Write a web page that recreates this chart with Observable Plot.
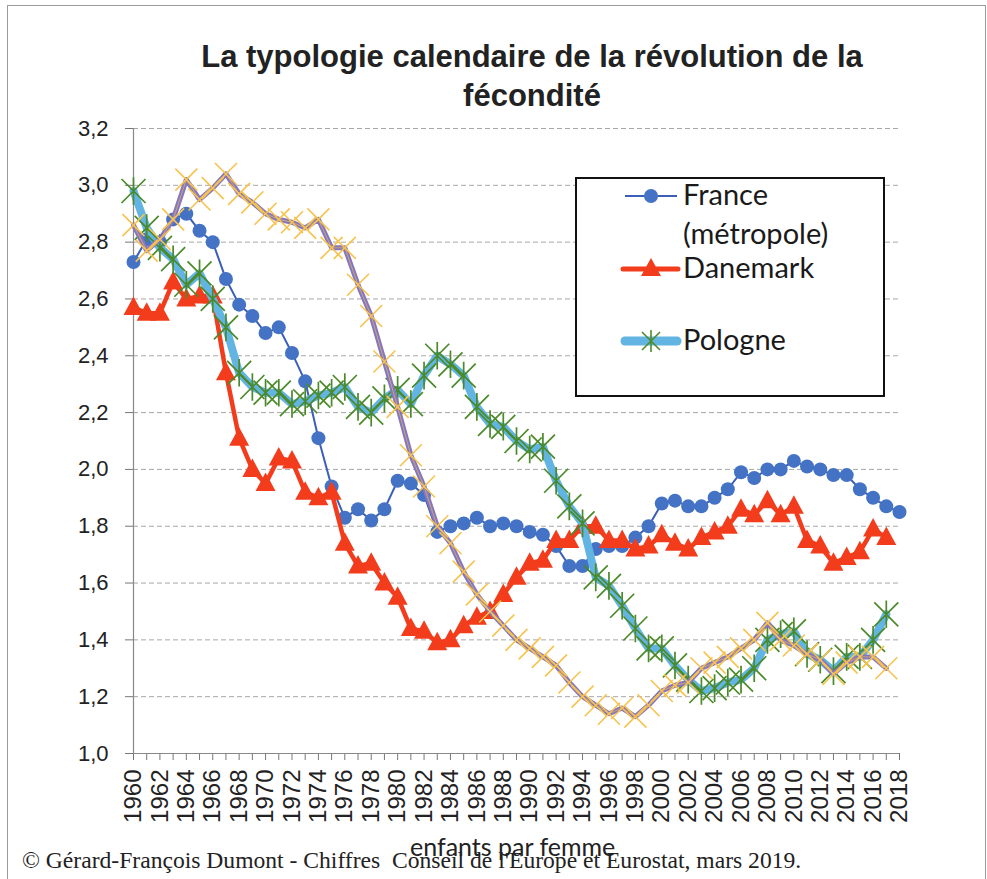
<!DOCTYPE html>
<html>
<head>
<meta charset="utf-8">
<script src="https://cdn.jsdelivr.net/npm/d3@7"></script>
<script src="https://cdn.jsdelivr.net/npm/@observablehq/plot@0.6"></script>
<style>
  html, body { margin: 0; padding: 0; background: #fff; }
  #wrap { position: relative; width: 987px; height: 879px; overflow: hidden; }
  #frame { position: absolute; left: 7px; top: 5px; width: 977px; height: 900px; border: 1px solid #9a9a9a; }
  #title { position: absolute; left: 132px; width: 800px; top: 37px; text-align: center;
           font: bold 31px "Liberation Sans", Arial, sans-serif; line-height: 39px; color: #222; }
  #chart { position: absolute; left: 0; top: 0; }
  #legend { position: absolute; left: 575px; top: 177px; width: 310px; height: 220px; box-sizing: border-box;
            border: 2px solid #111; background: #fff; }
  #legend svg { position: absolute; left: 0; top: 0; }
  .lt { position: absolute; left: 106px; font: 29px Lato, "Open Sans", sans-serif; color: #1a1a1a; line-height: 34px; white-space: nowrap; }
  #unit { position: absolute; left: 410px; top: 831px; font: 25px Lato, "Open Sans", sans-serif; color: #222; }
  #caption { position: absolute; left: 22px; top: 847px; font: 23.6px "Liberation Serif", "Times New Roman", serif; color: #222; white-space: pre; }
</style>
</head>
<body>
<div id="wrap">
  <div id="frame"></div>
  <div id="chart"></div>
  <div id="title">La typologie calendaire de la révolution de la<br>fécondité</div>
  <div id="legend">
    <svg width="306" height="216">
      <line x1="48" x2="100" y1="17" y2="17" stroke="#3b5fb8" stroke-width="2"/>
      <circle cx="74" cy="17" r="7" fill="#4472c4"/>
      <line x1="46" x2="101" y1="90" y2="90" stroke="#f23c1c" stroke-width="5" stroke-linecap="round"/>
      <path d="M74,79 L84,97 L64,97 Z" fill="#f23c1c"/>
      <line x1="48" x2="100" y1="162" y2="162" stroke="#62b5e3" stroke-width="9" stroke-linecap="round"/>
      <path d="M65,153 L83,171 M83,153 L65,171 M74,151 L74,173" stroke="#4d8c2c" stroke-width="1.6"/>
    </svg>
    <div class="lt" style="top:-2px">France</div>
    <div class="lt" style="top:37px">(métropole)</div>
    <div class="lt" style="top:71px">Danemark</div>
    <div class="lt" style="top:143px">Pologne</div>
  </div>
  <div id="unit">enfants par femme</div>
  <div id="caption">© Gérard-François Dumont - Chiffres  Conseil de l'Europe et Eurostat, mars 2019.</div>
</div>
<script>
// ---- data ----
const years = d3.range(1960, 2019);
const france = [2.73, 2.81, 2.80, 2.88, 2.90, 2.84, 2.80, 2.67, 2.58, 2.54, 2.48, 2.50, 2.41, 2.31, 2.11, 1.94, 1.83, 1.86, 1.82, 1.86, 1.96, 1.95, 1.91, 1.78, 1.80, 1.81, 1.83, 1.80, 1.81, 1.80, 1.78, 1.77, 1.73, 1.66, 1.66, 1.72, 1.73, 1.73, 1.76, 1.80, 1.88, 1.89, 1.87, 1.87, 1.90, 1.93, 1.99, 1.97, 2.00, 2.00, 2.03, 2.01, 2.00, 1.98, 1.98, 1.93, 1.90, 1.87, 1.85];
const danemark = [2.57, 2.55, 2.55, 2.66, 2.60, 2.61, 2.61, 2.34, 2.11, 2.00, 1.95, 2.04, 2.03, 1.92, 1.90, 1.92, 1.74, 1.66, 1.67, 1.60, 1.55, 1.44, 1.43, 1.39, 1.40, 1.45, 1.48, 1.50, 1.56, 1.62, 1.67, 1.68, 1.75, 1.75, 1.80, 1.80, 1.75, 1.75, 1.72, 1.73, 1.77, 1.74, 1.72, 1.76, 1.78, 1.80, 1.86, 1.84, 1.89, 1.84, 1.87, 1.75, 1.73, 1.67, 1.69, 1.71, 1.79, 1.76];
const pologne = [2.98, 2.85, 2.78, 2.74, 2.65, 2.69, 2.60, 2.50, 2.34, 2.29, 2.27, 2.27, 2.23, 2.24, 2.26, 2.27, 2.29, 2.22, 2.20, 2.25, 2.28, 2.23, 2.33, 2.40, 2.37, 2.33, 2.22, 2.16, 2.15, 2.10, 2.07, 2.08, 1.96, 1.87, 1.81, 1.62, 1.59, 1.52, 1.44, 1.37, 1.37, 1.31, 1.26, 1.22, 1.23, 1.25, 1.26, 1.30, 1.40, 1.42, 1.43, 1.35, 1.33, 1.29, 1.34, 1.34, 1.40, 1.49];
const espagne = [2.86, 2.77, 2.81, 2.88, 3.02, 2.95, 2.99, 3.04, 2.97, 2.94, 2.90, 2.88, 2.87, 2.85, 2.88, 2.78, 2.78, 2.65, 2.54, 2.38, 2.22, 2.05, 1.94, 1.80, 1.74, 1.64, 1.56, 1.50, 1.45, 1.40, 1.37, 1.34, 1.31, 1.25, 1.20, 1.17, 1.14, 1.16, 1.13, 1.17, 1.22, 1.24, 1.25, 1.30, 1.32, 1.34, 1.37, 1.40, 1.46, 1.40, 1.38, 1.35, 1.33, 1.28, 1.32, 1.34, 1.34, 1.30];
const yTicks = [1.0, 1.2, 1.4, 1.6, 1.8, 2.0, 2.2, 2.4, 2.6, 2.8, 3.0, 3.2];
const xTickLabels = d3.range(1960, 2019, 2);

// ---- tables ----
const table = arr => arr.map((v, i) => ({year: years[i], v}));
const fr = table(france), dk = table(danemark), pl = table(pologne), es = table(espagne);

// ---- custom symbols ----
const rOf = size => Math.sqrt(size / Math.PI);
const symX = {draw(ctx, size) { const r = rOf(size);
  ctx.moveTo(-r, -r); ctx.lineTo(r, r); ctx.moveTo(r, -r); ctx.lineTo(-r, r); }};
const symStar = {draw(ctx, size) { const r = rOf(size);
  ctx.moveTo(-r, -r); ctx.lineTo(r, r); ctx.moveTo(r, -r); ctx.lineTo(-r, r);
  ctx.moveTo(0, -r * 1.15); ctx.lineTo(0, r * 1.15); }};
const symTri = {draw(ctx, size) { const r = rOf(size);
  ctx.moveTo(0, -r * 1.1); ctx.lineTo(r, r * 0.75); ctx.lineTo(-r, r * 0.75); ctx.closePath(); }};

const fmt = d => d.toFixed(1).replace(".", ",");

const plot = Plot.plot({
  width: 987, height: 879,
  marginLeft: 133, marginRight: 88, marginTop: 128, marginBottom: 126,
  x: {domain: [1960, 2018]},
  y: {domain: [1.0, 3.2]},
  style: {fontFamily: "'Liberation Sans', Arial, sans-serif", background: "transparent", color: "#222", overflow: "visible"},
  marks: [
    Plot.gridY(yTicks.slice(1), {stroke: "#a8a8a8", strokeOpacity: 1, strokeDasharray: "5,3", strokeWidth: 1}),
    Plot.axisY({ticks: yTicks, tickFormat: fmt, tickSize: 8, tickPadding: 17, fontSize: 22, label: null, stroke: "#777"}),
    Plot.axisX({ticks: years, tickFormat: () => "", tickSize: 7, label: null, stroke: "#777"}),
    Plot.axisX({ticks: xTickLabels, tickFormat: d => String(d), tickSize: 0, tickPadding: 16, tickRotate: -90, fontSize: 24, label: null}),
    Plot.ruleY([1.0], {stroke: "#888", strokeWidth: 1.2}),
    Plot.ruleX([1960], {stroke: "#888", strokeWidth: 1.2}),
    // France
    Plot.line(fr, {x: "year", y: "v", stroke: "#3b5fb8", strokeWidth: 2}),
    Plot.dot(fr, {x: "year", y: "v", r: 7, fill: "#4472c4", stroke: "none"}),
    // Danemark
    Plot.line(dk, {x: "year", y: "v", stroke: "#f23c1c", strokeWidth: 4.5}),
    Plot.dot(dk, {x: "year", y: "v", r: 10, symbol: symTri, fill: "#f23c1c", stroke: "none"}),
    // Pologne
    Plot.line(pl, {x: "year", y: "v", stroke: "#62b5e3", strokeWidth: 8}),
    Plot.dot(pl, {x: "year", y: "v", r: 12, symbol: symStar, fill: "none", stroke: "#4a8a28", strokeWidth: 1.7}),
    // fourth series
    Plot.line(es, {x: "year", y: "v", stroke: "#8576c0", strokeWidth: 5}),
    Plot.line(es, {x: "year", y: "v", stroke: "#f5c04a", strokeWidth: 0.8, strokeOpacity: 0.8}),
    Plot.dot(es, {x: "year", y: "v", r: 11, symbol: symX, fill: "none", stroke: "#f7c34e", strokeWidth: 1.6})
  ]
});
document.getElementById("chart").appendChild(plot);
</script>
</body>
</html>
